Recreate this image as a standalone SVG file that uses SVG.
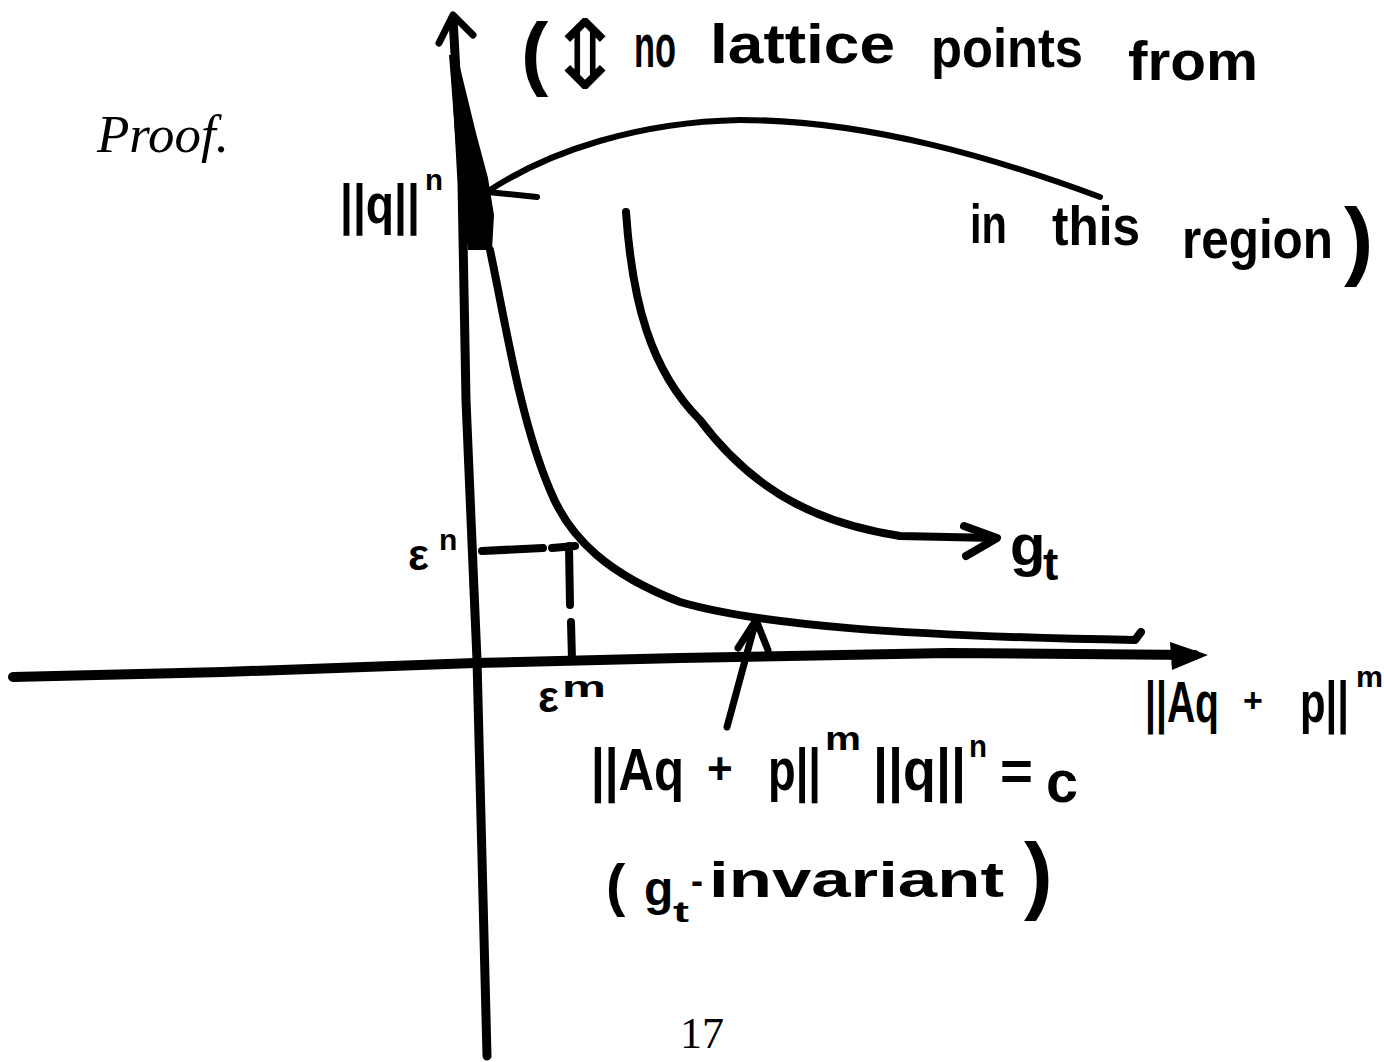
<svg xmlns="http://www.w3.org/2000/svg" width="1384" height="1062" viewBox="0 0 1384 1062">
<style>
.ink{fill:none;stroke:#000;stroke-linecap:round;stroke-linejoin:round}
.hw{font-family:"Liberation Sans","DejaVu Sans",sans-serif;font-weight:bold;fill:#000}
.tex{font-family:"Liberation Serif","DejaVu Serif",serif;fill:#000}
</style>
<rect width="1384" height="1062" fill="#fff"/>
<g id="axes">
  <path class="ink" stroke-width="9" d="M453,18 L462,183 L466,400 L474,590 L477,660 L487,1056"/>
  <polygon points="449,55 457,55 476,133 488,178 494,215 492,250 468,250 459,180 455,133 451,80" fill="#000"/>
  <path class="ink" stroke-width="7" d="M439,43 L453,15 L473,35"/>
  <path class="ink" stroke-width="10" d="M13,677 L223,672 L475,663 L680,658 L949,653 L1195,655"/>
  <polygon points="1170,642 1208,655 1172,670" fill="#000"/>
</g>
<g id="connectors">
  <path id="hyperbola" class="ink" stroke-width="8" d="M490,250 C505,320 520,420 550,490 C570,540 610,575 680,602 C760,625 900,636 1135,640 L1141,632"/>
  <path id="flow" class="ink" stroke-width="8" d="M626,212 C632,300 650,370 700,420 C760,500 830,525 900,536 L995,538"/>
  <path class="ink" stroke-width="8" d="M964,526 L997,538 L966,556"/>
  <path id="region-arrow" class="ink" stroke-width="6" d="M1100,197 C1000,160 870,120 740,120 C640,122 550,150 487,192 L537,197"/>
  <path id="curve-pointer" class="ink" stroke-width="7" d="M727,727 L756,620 M738,648 L756,620 L768,650"/>
  <path id="eps-marks" class="ink" stroke-width="8" d="M482,551 L543,548 M552,548 L575,546 M569,546 L570,605 M571,622 L572,660"/>
</g>
<g id="proof-label"><text class="tex" x="97" y="152" font-size="53" font-style="italic">Proof.</text></g>
<g id="page-number"><text class="tex" x="680" y="1048" font-size="44">17</text></g>
<g id="y-label">
  <text class="hw" x="340" y="223" font-size="56" textLength="80" lengthAdjust="spacingAndGlyphs">||q||</text>
  <text class="hw" x="425" y="190" font-size="30" textLength="18" lengthAdjust="spacingAndGlyphs">n</text>
</g>
<g id="note-top">
  <text class="hw" x="521" y="80" font-size="82" font-weight="normal">(</text>
  <text x="545" y="88" font-size="96" font-family="DejaVu Sans,sans-serif">⇕</text>
  <text class="hw" x="634" y="67" font-size="62" textLength="42" lengthAdjust="spacingAndGlyphs">no</text>
  <text class="hw" x="710" y="63" font-size="56" textLength="185" lengthAdjust="spacingAndGlyphs">lattice</text>
  <text class="hw" x="931" y="67" font-size="56" textLength="152" lengthAdjust="spacingAndGlyphs">points</text>
  <text class="hw" x="1128" y="80" font-size="56" textLength="130" lengthAdjust="spacingAndGlyphs">from</text>
</g>
<g id="note-region">
  <text class="hw" x="970" y="243" font-size="56" textLength="37" lengthAdjust="spacingAndGlyphs">in</text>
  <text class="hw" x="1052" y="245" font-size="56" textLength="88" lengthAdjust="spacingAndGlyphs">this</text>
  <text class="hw" x="1182" y="258" font-size="56" textLength="151" lengthAdjust="spacingAndGlyphs">region</text>
  <text class="hw" x="1344" y="269" font-size="88" font-weight="normal">)</text>
</g>
<g id="gt-label">
  <text class="hw" x="1010" y="565" font-size="58">g</text>
  <text class="hw" x="1043" y="580" font-size="46">t</text>
</g>
<g id="eps-n">
  <text class="hw" x="408" y="570" font-size="44">ε</text>
  <text class="hw" x="439" y="550" font-size="30">n</text>
</g>
<g id="eps-m">
  <text class="hw" x="538" y="712" font-size="44">ε</text>
  <text class="hw" x="562" y="697" font-size="30" textLength="44" lengthAdjust="spacingAndGlyphs">m</text>
</g>
<g id="x-label">
  <text class="hw" x="1145" y="722" font-size="58" textLength="74" lengthAdjust="spacingAndGlyphs">||Aq</text>
  <text class="hw" x="1243" y="712" font-size="34">+</text>
  <text class="hw" x="1300" y="722" font-size="58" textLength="49" lengthAdjust="spacingAndGlyphs">p||</text>
  <text class="hw" x="1356" y="687" font-size="30" textLength="27" lengthAdjust="spacingAndGlyphs">m</text>
</g>
<g id="equation">
  <text class="hw" x="591" y="790" font-size="60" textLength="93" lengthAdjust="spacingAndGlyphs">||Aq</text>
  <text class="hw" x="707" y="784" font-size="44">+</text>
  <text class="hw" x="768" y="790" font-size="60" textLength="53" lengthAdjust="spacingAndGlyphs">p||</text>
  <text class="hw" x="825" y="750" font-size="34" textLength="36" lengthAdjust="spacingAndGlyphs">m</text>
  <text class="hw" x="873" y="790" font-size="60" textLength="93" lengthAdjust="spacingAndGlyphs">||q||</text>
  <text class="hw" x="969" y="757" font-size="32" textLength="18" lengthAdjust="spacingAndGlyphs">n</text>
  <text class="hw" x="1000" y="790" font-size="56" textLength="33" lengthAdjust="spacingAndGlyphs">=</text>
  <text class="hw" x="1046" y="802" font-size="60" textLength="32" lengthAdjust="spacingAndGlyphs">c</text>
</g>
<g id="invariant-note">
  <text class="hw" x="606" y="905" font-size="58" font-weight="normal">(</text>
  <text class="hw" x="644" y="905" font-size="48">g</text>
  <text class="hw" x="673" y="922" font-size="30" textLength="16" lengthAdjust="spacingAndGlyphs">t</text>
  <text class="hw" x="691" y="893" font-size="36">-</text>
  <text class="hw" x="709" y="897" font-size="50" font-weight="normal" textLength="295" lengthAdjust="spacingAndGlyphs">invariant</text>
  <text class="hw" x="1024" y="903" font-size="86" font-weight="normal">)</text>
</g>
</svg>
